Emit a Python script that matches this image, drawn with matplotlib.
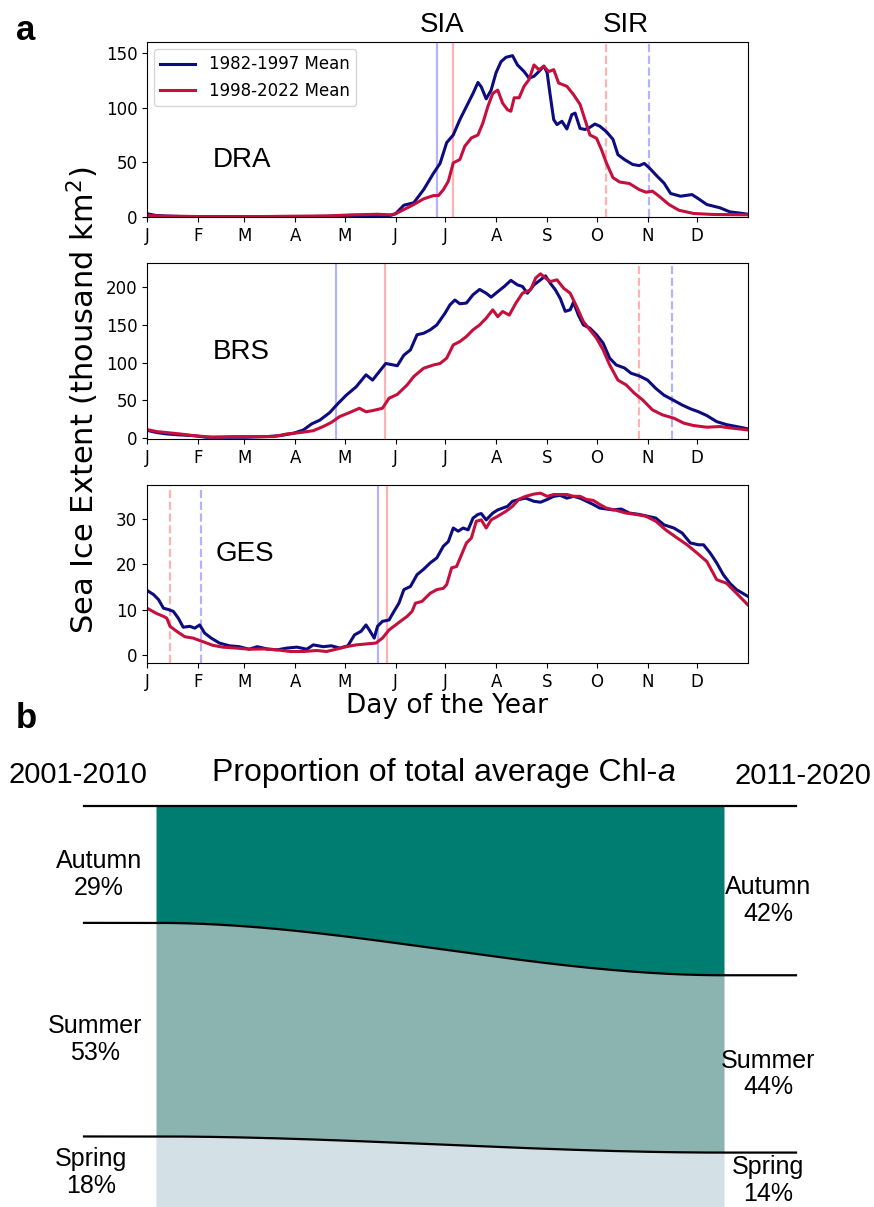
import numpy as np
import matplotlib
matplotlib.use('Agg')
import matplotlib.pyplot as plt

# ---- panel a: sea ice extent (thousand km2) ----
months = ['J', 'F', 'M', 'A', 'M', 'J', 'J', 'A', 'S', 'O', 'N', 'D']
month_starts = [0, 31, 59, 90, 120, 151, 181, 212, 243, 273, 304, 334]

dra_blue_day = [0, 5, 10, 20, 40, 60, 80, 100, 120, 140,
                148, 151, 156, 162, 168, 174, 178, 182, 186, 190,
                194, 198, 201, 203, 206, 209, 212, 215, 218, 222,
                225, 229, 232, 235, 238, 241, 243, 245, 247, 249,
                252, 255, 258, 260, 263, 266, 269, 272, 275, 279,
                283, 286, 290, 295, 299, 302, 305, 310, 314, 318,
                324, 331, 335, 340, 348, 354, 362, 365]
dra_blue = [3, 1.5, 1, 0.5, 0.3, 0.3, 0.5, 0.5, 0.8, 1,
            1.5, 3, 10.8, 13, 25, 40, 49, 68, 75, 89,
            101, 113, 123, 119, 108, 116, 132, 142, 146, 147.5,
            139, 133, 127, 128.6, 133, 138, 132, 110, 89, 84.5,
            87.5, 80.5, 93.6, 95, 81, 80, 82, 85, 83, 78,
            71, 57, 52.5, 48, 47, 49, 45, 37, 31, 21.5,
            19, 20.5, 16.6, 11.4, 8.4, 4.7, 3.2, 2.5]
dra_red_day = [0, 10, 40, 80, 110, 125, 140, 148, 151, 156,
               162, 168, 174, 177, 180, 183, 186, 190, 193, 197,
               201, 204, 207, 210, 213, 216, 219, 221, 223, 226,
               229, 232, 235, 238, 241, 244, 247, 250, 255, 259,
               263, 266, 269, 273, 276, 279, 283, 287, 293, 299,
               303, 307, 311, 317, 323, 332, 344, 365]
dra_red = [1.5, 0.8, 0.3, 0.5, 1, 2, 2.5, 2, 3, 6.8,
           11.4, 16.6, 19.6, 19.6, 25, 32.7, 49.5, 52.5, 64.7, 72.3,
           75, 86, 101, 113, 116, 104, 98, 96.7, 109, 109,
           119.5, 125.6, 139, 134.7, 137.7, 133, 134.7, 122.5, 119.5, 112,
           103, 89, 75, 72, 61.6, 49.5, 36, 32, 30.6, 25,
           22.7, 23.6, 19, 11.4, 6.2, 3.2, 2.3, 2]

brs_blue_day = [1, 6, 12, 20, 28, 36, 48, 60, 73, 81,
                89, 95, 100, 105, 111, 116, 121, 127, 133, 137,
                141, 145, 152, 156, 160, 164, 168, 172, 176, 181,
                184, 187, 190, 194, 198, 202, 206, 209, 213, 217,
                221, 225, 228, 231, 235, 239, 242, 245, 248, 251,
                254, 257, 259, 262, 265, 269, 273, 277, 281, 285,
                290, 294, 299, 304, 309, 314, 320, 325, 330, 335,
                340, 346, 352, 358, 365]
brs_blue = [10, 7.5, 5.7, 4.4, 3.5, 1.3, 1.3, 1.3, 2.2, 3.5,
            6.6, 11, 19, 24, 34, 46, 57, 68, 84, 77,
            88, 99, 96, 110, 117, 137, 139, 143.5, 150, 165.6,
            176.6, 183, 178, 179, 190, 197, 192, 186.8, 194, 201,
            209, 203, 201, 192, 203, 209.7, 215, 205, 196.5, 185,
            168, 170, 180, 163, 150, 145.7, 137, 126, 106, 97,
            93, 86, 82.5, 77, 66, 57, 50, 44, 39, 35,
            30, 22, 18, 15.5, 12.4]
brs_red_day = [1, 6, 12, 20, 28, 40, 52, 65, 77, 85,
               93, 101, 107, 112, 117, 123, 129, 133, 137, 143,
               147, 152, 158, 162, 168, 174, 178, 182, 186, 190,
               194, 198, 202, 206, 210, 213, 216, 220, 224, 228,
               233, 236, 239, 242, 245, 249, 253, 257, 261, 265,
               269, 273, 277, 281, 286, 291, 296, 301, 307, 313,
               320, 326, 332, 340, 348, 356, 365]
brs_red = [11, 8.8, 7.5, 5.7, 3.5, 1.3, 2.2, 2.2, 2.2, 5.7,
           7.5, 10, 15.5, 21, 28.7, 34, 39.7, 35, 36.6, 39.7,
           53, 58, 70.6, 81.7, 92.7, 97, 99, 106, 123.6, 128,
           134.7, 143.5, 150, 159, 170, 161, 167.8, 163, 178.8, 192,
           196.5, 212, 217.7, 212, 207.5, 209.7, 198.7, 192, 174, 154.5,
           143.5, 132.5, 117, 97, 77, 70.6, 59.6, 50.8, 37.5, 31,
           26.5, 20, 16.8, 14.6, 15.5, 13.2, 11]

ges_blue_day = [1, 4, 7, 10, 13, 16, 19, 22, 26, 29,
                32, 35, 39, 44, 50, 56, 62, 67, 73, 79,
                85, 91, 97, 101, 107, 112, 117, 122, 126, 130,
                133, 135, 138, 140, 143, 147, 150, 153, 156, 160,
                164, 168, 172, 176, 180, 183, 186, 189, 192, 195,
                198, 201, 203, 206, 210, 213, 216, 219, 222, 226,
                230, 235, 239, 243, 247, 251, 255, 259, 263, 267,
                271, 275, 279, 283, 288, 293, 299, 304, 309, 314,
                320, 325, 330, 335, 338, 342, 346, 350, 354, 358,
                365]
ges_blue = [14, 13.3, 12.2, 10.3, 10, 9.6, 8.1, 6.1, 6.3, 5.9,
            6.6, 4.8, 3.7, 2.6, 2, 1.8, 1.25, 1.8, 1.3, 1.1,
            1.5, 1.7, 1.25, 2.2, 1.8, 2, 1.5, 2, 4.4, 5.2,
            6.6, 5.5, 3.7, 6.3, 7.4, 7.7, 9.6, 11.4, 14.4, 15.1,
            17.7, 18.9, 20.3, 21.4, 24, 25, 28, 27.3, 28, 27.6,
            30.2, 31, 31.2, 29.8, 31.3, 32, 32.4, 32.8, 33.9, 34.3,
            34.6, 33.9, 33.7, 34.3, 35, 35.2, 34.6, 35, 34.6, 33.9,
            33.2, 32.4, 32.2, 32, 32.2, 31.3, 31, 30.6, 30.2, 28.7,
            28, 26.9, 24.7, 24.3, 24.3, 22.5, 20.3, 17.7, 15.8, 14.4,
            12.9]
ges_red_day = [1, 6, 10, 12, 14, 18, 23, 28, 34, 40,
               46, 54, 62, 71, 79, 87, 95, 103, 109, 115,
               121, 127, 133, 139, 143, 147, 151, 155, 158, 161,
               163, 167, 172, 176, 180, 182, 185, 188, 191, 194,
               197, 200, 203, 206, 209, 213, 218, 222, 226, 230,
               235, 239, 243, 247, 251, 255, 259, 263, 267, 271,
               275, 279, 285, 291, 297, 303, 309, 315, 322, 328,
               334, 340, 346, 352, 358, 365]
ges_red = [10.1, 9.1, 8.5, 8.1, 6.3, 5.2, 4, 3.7, 2.9, 2.1,
           1.7, 1.5, 1.25, 1.3, 1.1, 0.74, 0.74, 0.96, 0.74, 1.25,
           1.8, 2.2, 2.4, 2.6, 3.7, 5.5, 6.6, 7.7, 8.5, 9.6,
           11.4, 11.8, 13.6, 14.4, 14.7, 15.5, 19.2, 19.5, 22.1, 24.7,
           25.8, 29.5, 29.8, 28, 29.8, 30.6, 31.7, 32.8, 34.4, 35,
           35.5, 35.7, 35, 35.4, 35.4, 35.4, 35, 35, 34.3, 34.1,
           33.2, 32.4, 31.9, 31.3, 31, 30.6, 29.5, 27.6, 25.8, 24.3,
           22.5, 20.6, 16.6, 15.8, 13.6, 11]

# SIA (solid) and SIR (dashed) days: (early period, late period)
dra_sia = (176, 186)
dra_sir = (305, 279)
brs_sia = (115, 144.5)
brs_sir = (319, 299)
ges_sia = (140.5, 145.5)
ges_sir = (33, 14)

# ---- panel b: share of total average Chl-a (%) ----
seasons = ['Autumn', 'Summer', 'Spring']
share_2001_2010 = [29, 53, 18]
share_2011_2020 = [42, 44, 14]
season_colors = ['#007D71', '#8BB4B0', '#D3E0E5']

BLUE = '#0c0c80'
RED = '#c50f3c'
ARIAL = ['Liberation Sans', 'DejaVu Sans']
W, H = 874, 1207

fig = plt.figure(figsize=(W / 100, H / 100), dpi=100)


def px(x, y):
    return x / W, 1 - y / H


panels = [
    ('DRA', dra_blue_day, dra_blue, dra_red_day, dra_red, dra_sia, dra_sir,
     (0, 160), [0, 50, 100, 150], 217, 175, (0.158, 0.326)),
    ('BRS', brs_blue_day, brs_blue, brs_red_day, brs_red, brs_sia, brs_sir,
     (-1, 232), [0, 50, 100, 150, 200], 439, 176, (0.156, 0.494)),
    ('GES', ges_blue_day, ges_blue, ges_red_day, ges_red, ges_sia, ges_sir,
     (-1.8, 37.5), [0, 10, 20, 30], 663, 178, (0.163, 0.612)),
]

axes = []
for name, bd, bv, rd, rv, sia, sir, ylim, yticks, bottom, height, lab in panels:
    ax = fig.add_axes([147 / W, 1 - bottom / H, 601 / W, height / H])
    ax.axvline(sia[0], color='blue', alpha=0.3, lw=1.6)
    ax.axvline(sia[1], color='red', alpha=0.3, lw=1.6)
    ax.axvline(sir[0], color='blue', alpha=0.3, lw=1.6, ls='--')
    ax.axvline(sir[1], color='red', alpha=0.3, lw=1.6, ls='--')
    ax.plot(bd, bv, color=BLUE, lw=2.2, label='1982-1997 Mean')
    ax.plot(rd, rv, color=RED, lw=2.2, label='1998-2022 Mean')
    ax.set_xlim(0, 365)
    ax.set_ylim(*ylim)
    ax.set_yticks(yticks)
    ax.set_xticks(month_starts)
    ax.set_xticklabels(months)
    ax.tick_params(labelsize=12)
    ax.text(lab[0], lab[1], name, transform=ax.transAxes, fontsize=20,
            family=ARIAL, ha='center', va='center')
    axes.append(ax)

axes[0].legend(loc='upper left', fontsize=12, handlelength=2.1,
               borderaxespad=0.4)
axes[0].text(179, 1.02, 'SIA', transform=axes[0].get_xaxis_transform(),
             fontsize=20, family=ARIAL, ha='center', va='bottom')
axes[0].text(291, 1.02, 'SIR', transform=axes[0].get_xaxis_transform(),
             fontsize=20, family=ARIAL, ha='center', va='bottom')

fig.text(*px(83, 400), 'Sea Ice Extent (thousand km$^2$)', rotation=90,
         fontsize=22, ha='center', va='center')
fig.text(*px(447, 706), 'Day of the Year', fontsize=19, ha='center',
         va='center')
fig.text(*px(26, 31), 'a', fontsize=25, fontweight='bold', family=ARIAL,
         ha='center', va='center')
fig.text(*px(26, 719), 'b', fontsize=25, fontweight='bold', family=ARIAL,
         ha='center', va='center')

# ---- panel b ----
axb = fig.add_axes([84 / W, -2 / H, 712 / W, 403 / H])
axb.set_xlim(0, 1)
axb.set_ylim(100, 0)
axb.axis('off')

x0, x1 = 72 / 712, 640 / 712
xs = np.linspace(x0, x1, 300)
t = (xs - x0) / (x1 - x0)
s = t * t * (3 - 2 * t)
left_cum = np.concatenate([[0], np.cumsum(share_2001_2010)])
right_cum = np.concatenate([[0], np.cumsum(share_2011_2020)])

for i in range(len(seasons)):
    top = left_cum[i] + (right_cum[i] - left_cum[i]) * s
    bot = left_cum[i + 1] + (right_cum[i + 1] - left_cum[i + 1]) * s
    axb.fill_between(xs, top, bot, color=season_colors[i], lw=0)

for i in range(len(seasons)):
    yb = left_cum[i] + (right_cum[i] - left_cum[i]) * s
    axb.plot(np.concatenate([[0], xs, [1]]),
             np.concatenate([[left_cum[i]], yb, [right_cum[i]]]),
             color='black', lw=1.6, clip_on=False)

offsets = [2.5, 2.5, 0]
left_x = [15 / 712, 11 / 712, 7 / 712]
for i, name in enumerate(seasons):
    ly = (left_cum[i] + left_cum[i + 1]) / 2 + offsets[i]
    ry = (right_cum[i] + right_cum[i + 1]) / 2 + offsets[i]
    axb.text(left_x[i], ly, f'{name}\n{share_2001_2010[i]}%', family=ARIAL,
             fontsize=18, ha='center', va='center', clip_on=False,
             linespacing=1.15)
    axb.text(684 / 712, ry, f'{name}\n{share_2011_2020[i]}%', family=ARIAL,
             fontsize=18, ha='center', va='center', clip_on=False,
             linespacing=1.15)

fig.text(*px(78, 775), '2001-2010', family=ARIAL, fontsize=21, ha='center',
         va='center')
fig.text(*px(803, 776), '2011-2020', family=ARIAL, fontsize=21, ha='center',
         va='center')

# title with italic "a"
ty = 1 - 773 / H
t1 = fig.text(0, ty, 'Proportion of total average Chl-', family=ARIAL,
              fontsize=23, ha='left', va='center')
t2 = fig.text(0, ty, 'a', family=ARIAL, style='italic', fontsize=23,
              ha='left', va='center')
renderer = fig.canvas.get_renderer()
w1 = t1.get_window_extent(renderer).width
w2 = t2.get_window_extent(renderer).width
start = 444 - (w1 + w2) / 2
t1.set_x(start / W)
t2.set_x((start + w1) / W)

fig.savefig('out.png', dpi=100)
